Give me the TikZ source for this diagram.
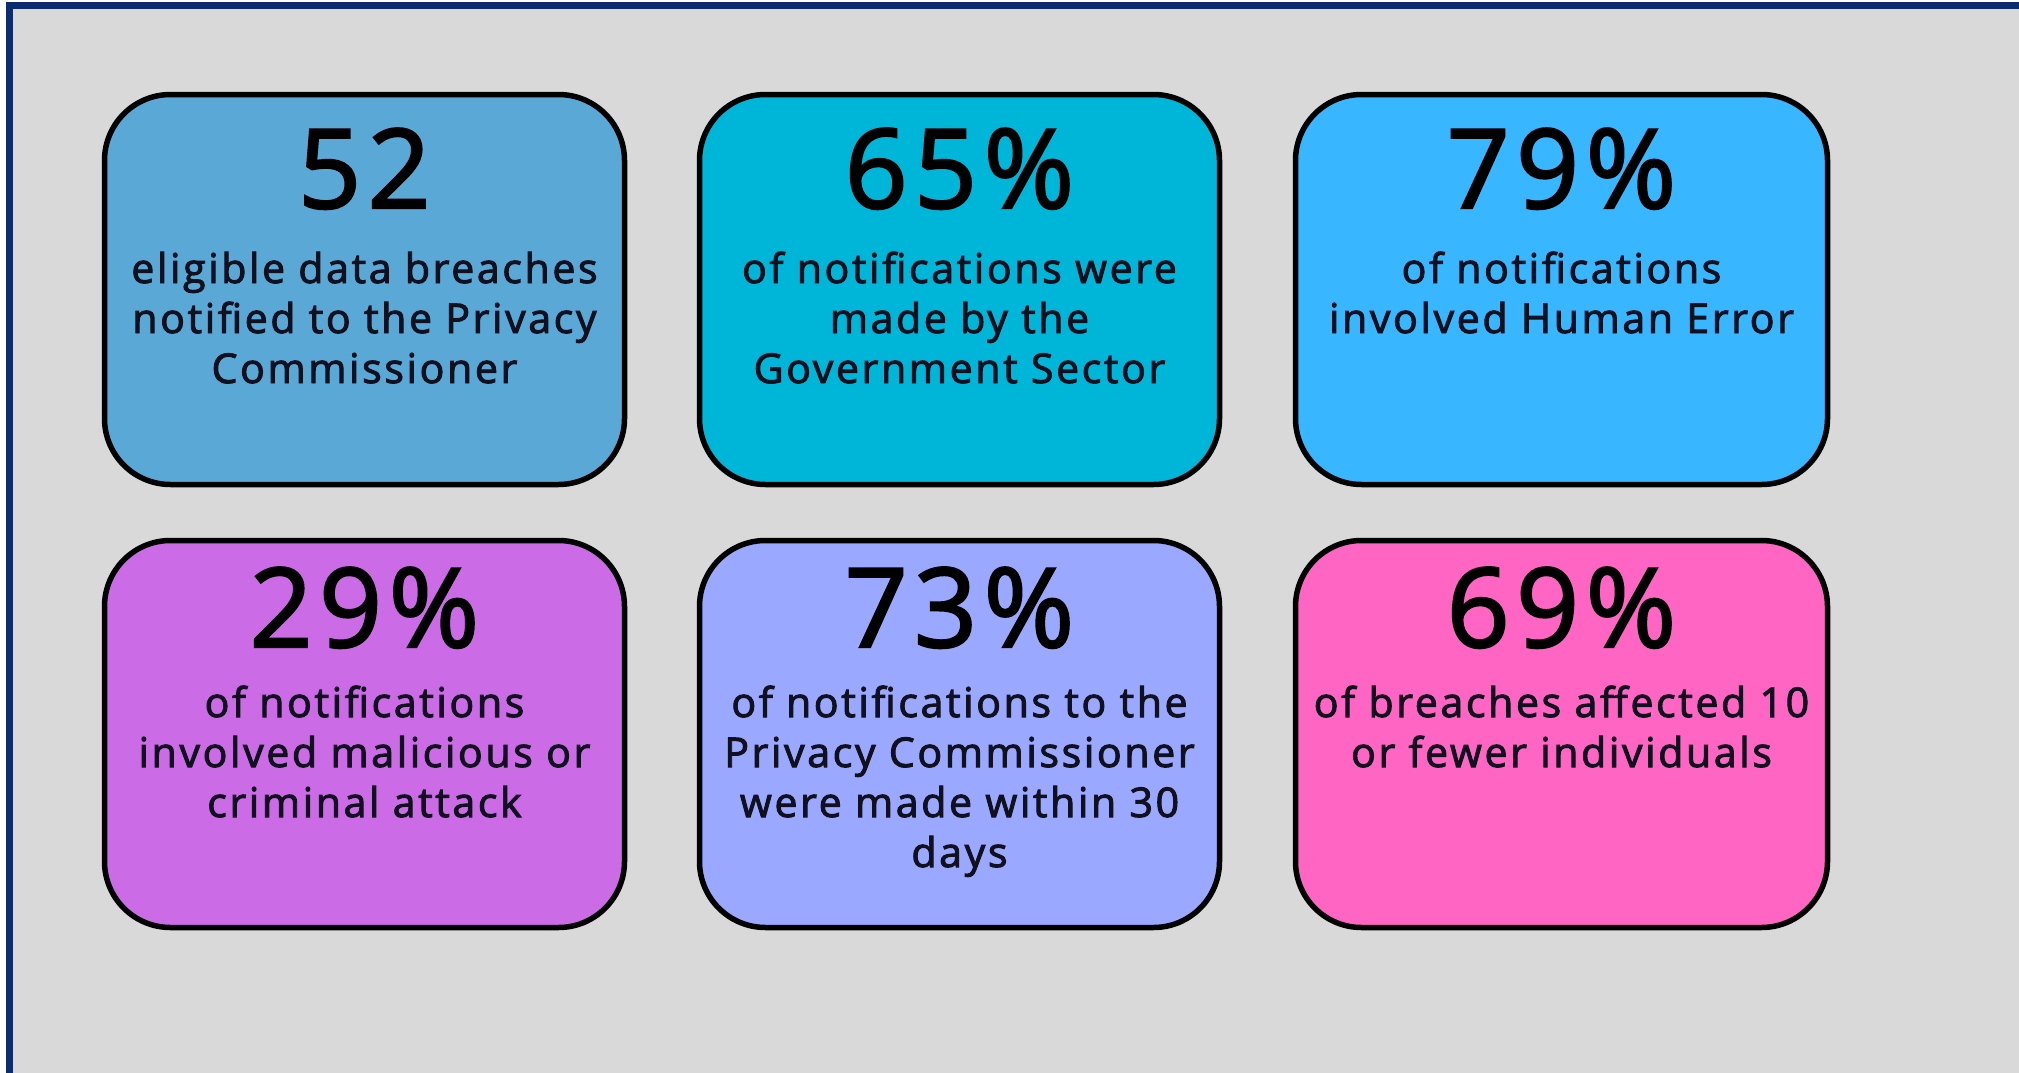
\documentclass[tikz,border=0pt]{standalone}
\usepackage{fontspec}
\setmainfont{Open Sans}
\newfontfamily\numfont[LetterSpace=6, FakeBold=2.2]{Open Sans}
\newfontfamily\bodyfont[LetterSpace=6.5, FakeBold=2.4]{Open Sans}
\definecolor{bg}{HTML}{D9D9D9}
\definecolor{frame}{HTML}{0B2C6E}
\definecolor{ink}{HTML}{10101E}
\definecolor{cA}{HTML}{5AA8D6}
\definecolor{cB}{HTML}{00B6D8}
\definecolor{cC}{HTML}{38B6FF}
\definecolor{cD}{HTML}{CB6CE6}
\definecolor{cE}{HTML}{9AA9FF}
\definecolor{cF}{HTML}{FF66C4}
\begin{document}
\begin{tikzpicture}[x=1pt,y=-1pt,
  statbox/.style={draw=black, line width=5.5pt, rounded corners=66pt,
    minimum width=520pt, minimum height=390pt, inner sep=0pt},
  numtext/.style={anchor=base, inner sep=0pt, text=black,
    font=\numfont\fontsize{110}{120}\selectfont},
  bodytext/.style={anchor=base, inner sep=0pt, text=ink,
    font=\bodyfont\fontsize{41}{50}\selectfont}]
\useasboundingbox (0,0) rectangle (2019,1073);
\fill[white] (0,0) rectangle (2019,1073);
\begin{scope}
\clip (0,0) rectangle (2019,1073);
\draw[line width=6.5pt, draw=frame, fill=bg] (9.5,5.5) rectangle (2040,1076);
\end{scope}

\node[statbox, fill=cA] (b1) at (364.5,289.5) {};
\node[statbox, fill=cB] (b2) at (959.5,289.5) {};
\node[statbox, fill=cC, minimum width=532pt] (b3) at (1561.5,289.5) {};
\node[statbox, fill=cD, minimum height=387pt] (b4) at (364.5,734) {};
\node[statbox, fill=cE, minimum height=387pt] (b5) at (959.5,734) {};
\node[statbox, fill=cF, minimum width=532pt, minimum height=387pt] (b6) at (1561.5,734) {};

\node[numtext] (n1) at (b1 |- 0,208) {52};
\node[numtext] (n2) at (b2 |- 0,208) {65\%};
\node[numtext] (n3) at (b3 |- 0,208) {79\%};
\node[numtext] (n4) at (b4 |- 0,647) {29\%};
\node[numtext] (n5) at (b5 |- 0,647) {73\%};
\node[numtext] (n6) at (b6 |- 0,647) {69\%};

\node[bodytext] (t1) at (b1 |- 0,283) {\begin{tabular}[t]{@{}c@{}}eligible data breaches\\notified to the Privacy\\Commissioner\end{tabular}};
\node[bodytext] (t2) at (b2 |- 0,283) {\begin{tabular}[t]{@{}c@{}}of notifications were\\made by the\\Government Sector\end{tabular}};
\node[bodytext] (t3) at (b3 |- 0,283) {\begin{tabular}[t]{@{}c@{}}of notifications\\involved Human Error\end{tabular}};
\node[bodytext] (t4) at (b4 |- 0,717) {\begin{tabular}[t]{@{}c@{}}of notifications\\involved malicious or\\criminal attack\end{tabular}};
\node[bodytext] (t5) at (b5 |- 0,717) {\begin{tabular}[t]{@{}c@{}}of notifications to the\\Privacy Commissioner\\were made within 30\\days\end{tabular}};
\node[bodytext] (t6) at (b6 |- 0,717) {\begin{tabular}[t]{@{}c@{}}of breaches affected 10\\or fewer individuals\end{tabular}};
\end{tikzpicture}
\end{document}
